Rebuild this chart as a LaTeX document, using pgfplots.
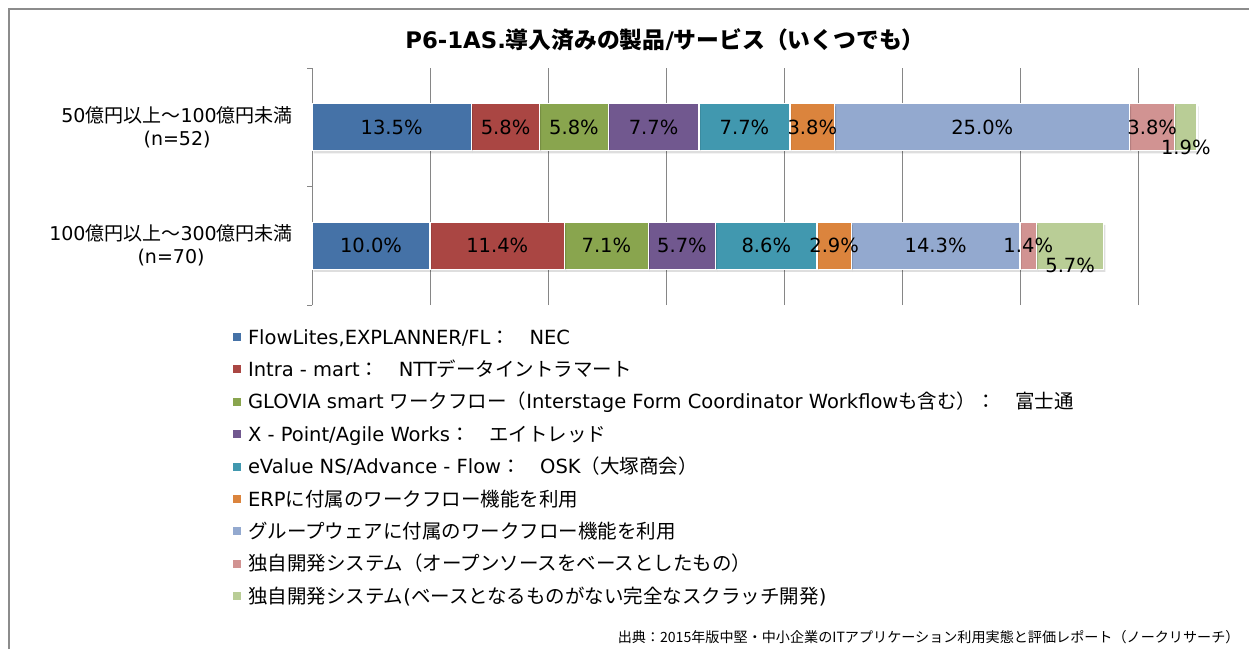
\documentclass[border=0pt]{standalone}
\usepackage{pgfplots}
\pgfplotsset{compat=1.18}
\usepackage{fontspec}
\setmainfont{DejaVu Sans}
\newfontfamily\cjk{Noto Sans CJK JP}
\newcommand\J[1]{{\cjk #1}}
\definecolor{c1}{HTML}{4572A7}
\definecolor{c2}{HTML}{AA4643}
\definecolor{c3}{HTML}{89A54E}
\definecolor{c4}{HTML}{71588F}
\definecolor{c5}{HTML}{4198AF}
\definecolor{c6}{HTML}{DB843D}
\definecolor{c7}{HTML}{93A9CF}
\definecolor{c8}{HTML}{D19392}
\definecolor{c9}{HTML}{B9CD96}
\definecolor{gridgray}{HTML}{868686}
\definecolor{framegray}{HTML}{8C8C8C}
\newcommand\lab{\fontsize{19.5pt}{23pt}\selectfont}
\newcommand\ylab{\fontsize{19pt}{23pt}\selectfont}
\tikzset{barshadow/.style={preaction={fill=black, fill opacity=0.13, draw=none, transform canvas={xshift=1.5pt, yshift=-2.5pt}}}}
\pgfplotsset{sq/.style={legend image code/.code={\fill[##1, draw=none] (0pt,-1.5pt) rectangle (8pt,6.5pt);}}}
\begin{document}
\begin{tikzpicture}[x=1pt,y=1pt]
\useasboundingbox (0,0) rectangle (1249,649);
\draw[framegray, line width=1.5pt] (9,0) -- (9,640) -- (1249,640);
\node[font=\fontsize{22.8pt}{26pt}\selectfont\bfseries] at (665,609) {P6-1AS.\J{導入済みの製品}/\J{サービス（いくつでも）}};
\node[anchor=east, font=\fontsize{14.1pt}{16pt}\selectfont] at (1243,12) {\J{出典：2015年版中堅・中小企業のITアプリケーション利用実態と評価レポート（ノークリサーチ）}};
\begin{axis}[
  at={(312pt,344pt)}, anchor=south west,
  x=11.8pt, y=118.5pt,
  xmin=0, xmax=78.5, ymin=-0.5, ymax=1.5,
  xbar stacked, bar width=47pt,
  axis lines*=left,
  axis line style={gridgray, line width=1pt, -},
  x axis line style={draw=none},
  xtick={10,20,...,70}, xticklabels={},
  xmajorgrids, grid style={gridgray, line width=1pt},
  ytick={0,1},
  yticklabels={{100\J{億円以上～}300\J{億円未満}\\(n=70)},{50\J{億円以上～}100\J{億円未満}\\(n=52)}},
  major tick length=0pt,
  extra y ticks={-0.5,0.5,1.5},
  extra y tick labels={},
  extra y tick style={major tick length=5pt, tick align=outside, tick style={gridgray, line width=1pt}},
  yticklabel style={align=center, font=\ylab, inner sep=0pt, xshift=-19pt},
  point meta=explicit symbolic,
  nodes near coords={\pgfplotspointmeta\%},
  every node near coord/.append style={anchor=center, font=\lab, text=black},
  legend style={at={(axis cs:-6.695,-0.5)}, anchor=north west, yshift=-25pt, draw=none, fill=none, inner sep=0pt, outer sep=0pt, row sep=13.4pt, column sep=7pt, font=\lab, nodes={inner sep=0pt, text height=14pt, text depth=5pt}},
  legend cell align=left,
  clip=false,
]
\addplot[forget plot, fill=c1, draw=white, line width=1.2pt, barshadow] coordinates {(13.5,1) [13.5] (10.0,0) [10.0]};
\addplot[forget plot, fill=c2, draw=white, line width=1.2pt, barshadow] coordinates {(5.8,1) [5.8] (11.4,0) [11.4]};
\addplot[forget plot, fill=c3, draw=white, line width=1.2pt, barshadow] coordinates {(5.8,1) [5.8] (7.1,0) [7.1]};
\addplot[forget plot, fill=c4, draw=white, line width=1.2pt, barshadow] coordinates {(7.7,1) [7.7] (5.7,0) [5.7]};
\addplot[forget plot, fill=c5, draw=white, line width=1.2pt, barshadow] coordinates {(7.7,1) [7.7] (8.6,0) [8.6]};
\addplot[forget plot, fill=c6, draw=white, line width=1.2pt, barshadow] coordinates {(3.8,1) [3.8] (2.9,0) [2.9]};
\addplot[forget plot, fill=c7, draw=white, line width=1.2pt, barshadow] coordinates {(25.0,1) [25.0] (14.3,0) [14.3]};
\addplot[forget plot, fill=c8, draw=white, line width=1.2pt, barshadow] coordinates {(3.8,1) [3.8] (1.4,0) [1.4]};
\addplot[forget plot, fill=c9, draw=white, line width=1.2pt, barshadow, every node near coord/.append style={yshift=-20pt}] coordinates {(1.9,1) [1.9] (5.7,0) [5.7]};
\addlegendimage{sq, fill=c1}
\addlegendentry{FlowLites,EXPLANNER/FL\J{：　}NEC}
\addlegendimage{sq, fill=c2}
\addlegendentry{Intra - mart\J{：　}NTT\J{データイントラマート}}
\addlegendimage{sq, fill=c3}
\addlegendentry{GLOVIA smart \J{ワークフロー（}Interstage Form Coordinator Workflow\J{も含む）：　富士通}}
\addlegendimage{sq, fill=c4}
\addlegendentry{X - Point/Agile Works\J{：　エイトレッド}}
\addlegendimage{sq, fill=c5}
\addlegendentry{eValue NS/Advance - Flow\J{：　}OSK\J{（大塚商会）}}
\addlegendimage{sq, fill=c6}
\addlegendentry{ERP\J{に付属のワークフロー機能を利用}}
\addlegendimage{sq, fill=c7}
\addlegendentry{\J{グループウェアに付属のワークフロー機能を利用}}
\addlegendimage{sq, fill=c8}
\addlegendentry{\J{独自開発システム（オープンソースをベースとしたもの）}}
\addlegendimage{sq, fill=c9}
\addlegendentry{\J{独自開発システム}(\J{ベースとなるものがない完全なスクラッチ開発})}
\end{axis}
\end{tikzpicture}
\end{document}
